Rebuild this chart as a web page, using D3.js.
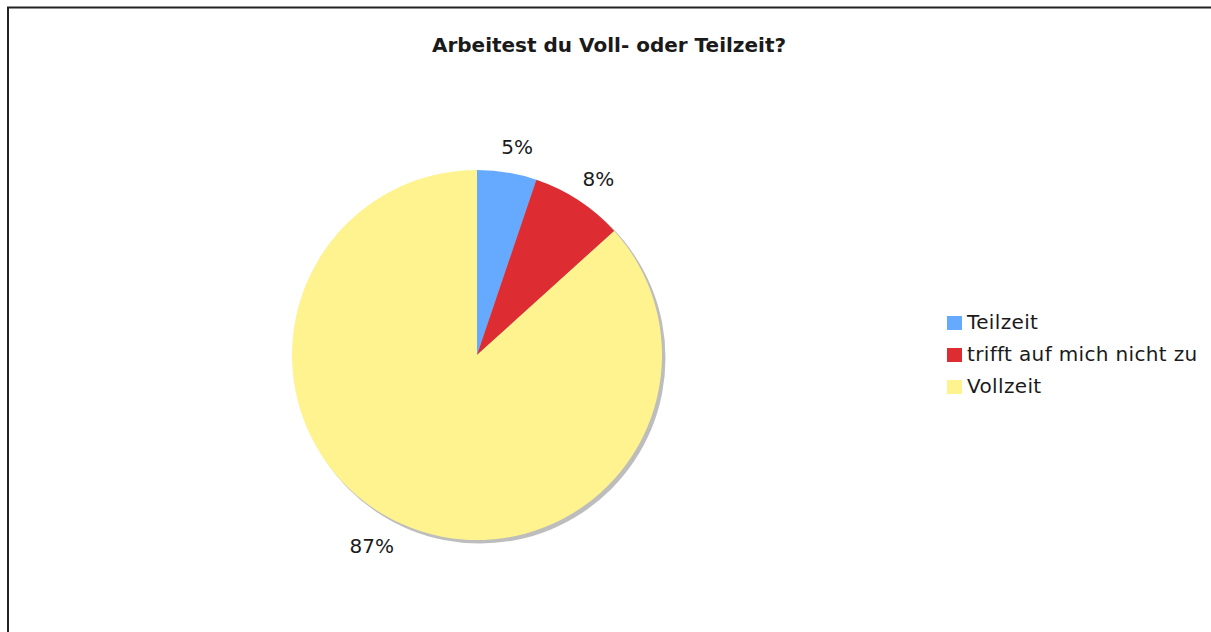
<!DOCTYPE html>
<html>
<head>
<meta charset="utf-8">
<script src="https://cdn.jsdelivr.net/npm/d3@7"></script>
<style>
  body { margin: 0; background: #fff; }
  text { font-family: "DejaVu Sans", Verdana, sans-serif; fill: #1a1a1a; }
  .title { font-weight: bold; font-size: 20px; }
  .pct { font-size: 20px; }
  .legend text { font-size: 20px; letter-spacing: 0.35px; }
</style>
</head>
<body>
<div id="chart"></div>
<script>
// data
const categories = ['Teilzeit', 'trifft auf mich nicht zu', 'Vollzeit'];
const values = [5.2, 8.1, 86.7];
const pctLabels = ['5%', '8%', '87%'];
const colours = ['#66aaff', '#de2c33', '#fff38f'];

const width = 1211;
const height = 632;
const cx = 477, cy = 355, radius = 185;
const labelR = 210;

const svg = d3.select('#chart').append('svg')
    .attr('width', width)
    .attr('height', height);

// frame (only top + left show)
svg.append('path')
    .attr('d', `M8,${height} V7.5 H${width}`)
    .attr('fill', 'none')
    .attr('stroke', '#222')
    .attr('stroke-width', 2);

svg.append('text')
    .attr('class', 'title')
    .attr('x', 609)
    .attr('y', 52)
    .attr('text-anchor', 'middle')
    .text('Arbeitest du Voll- oder Teilzeit?');

const data = categories.map((c, i) => ({name: c, value: values[i], label: pctLabels[i], colour: colours[i]}));

const pie = d3.pie().sort(null).value(d => d.value);
const arcs = pie(data);
const arc = d3.arc().innerRadius(0).outerRadius(radius);

const g = svg.append('g').attr('transform', `translate(${cx},${cy})`);

// shadow
g.append('circle')
    .attr('cx', 3)
    .attr('cy', 3)
    .attr('r', radius + 0.5)
    .attr('fill', '#bdbdbd');

g.selectAll('path.slice')
    .data(arcs)
    .enter()
    .append('path')
    .attr('class', 'slice')
    .attr('d', arc)
    .attr('fill', d => d.data.colour);

g.selectAll('text.pct')
    .data(arcs)
    .enter()
    .append('text')
    .attr('class', 'pct')
    .attr('x', d => {
      const a = (d.startAngle + d.endAngle) / 2;
      const s = Math.sin(a);
      return labelR * s + (s >= 0 ? 6 : -20);
    })
    .attr('y', d => {
      const a = (d.startAngle + d.endAngle) / 2;
      return -labelR * Math.cos(a) + 1;
    })
    .attr('text-anchor', 'middle')
    .attr('dominant-baseline', 'middle')
    .text(d => d.data.label);

// legend
const legend = svg.append('g')
    .attr('class', 'legend')
    .attr('transform', 'translate(947,316)');

const item = legend.selectAll('g')
    .data(data)
    .enter()
    .append('g')
    .attr('transform', (d, i) => `translate(0,${i * 32})`);

item.append('rect')
    .attr('width', 15)
    .attr('height', 14)
    .attr('fill', d => d.colour);

item.append('text')
    .attr('x', 20)
    .attr('y', 7)
    .attr('dominant-baseline', 'middle')
    .text(d => d.name);
</script>
</body>
</html>
